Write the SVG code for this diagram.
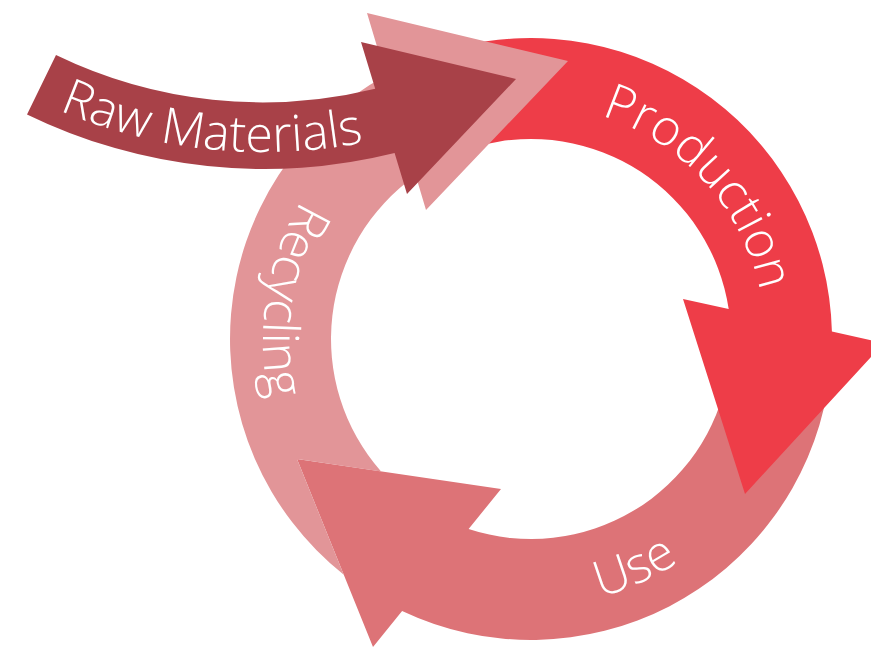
<svg xmlns="http://www.w3.org/2000/svg" width="871" height="648" viewBox="0 0 871 648">
  <style>
    .lbl { font-family: "Open Sans", "Liberation Sans", sans-serif; font-weight: 300; font-size: 50px; fill: #ffffff; }
  </style>
  <defs>
    <path id="tpRaw" d="M 62.6,111.8 A 524 524 0 0 0 360.2,143.1"/>
    <path id="tpProd" d="M 490.4,108.6 A 234 234 0 0 1 756.4,402.0"/>
    <path id="tpUse" d="M 458.4,596.0 A 268 268 0 0 0 772.3,455.4"/>
    <path id="tpRec" d="M 393.3,109.1 A 268 268 0 0 0 328.4,514.5"/>
  </defs>
  <rect width="871" height="648" fill="#ffffff"/>
  <g id="use">
    <path fill="#DD7377" d="M 827.4,391.3 A 301 301 0 0 1 402.1,611.0 L 373,647 L 297,459 L 501,489 L 468.6,529.0 A 200 200 0 0 0 728.0,373.7 Z"/>
    <text class="lbl"><textPath href="#tpUse" startOffset="50%" text-anchor="middle">Use</textPath></text>
  </g>
  <g id="production">
    <path fill="#EE3D48" d="M 453.1,48.3 A 301 301 0 0 1 831.9,331.6 L 884,343 L 745,494 L 683,299 L 728.7,309.0 A 200 200 0 0 0 479.2,145.8 Z"/>
    <text class="lbl"><textPath href="#tpProd" startOffset="50%" text-anchor="middle">Production</textPath></text>
  </g>
  <g id="recycling">
    <path fill="#E29598" d="M 343.8,574.7 A 301 301 0 0 1 385.7,75.4 L 367,13 L 568,61 L 426,210 L 415.7,175.6 A 200 200 0 0 0 381.1,471.4 L 297,459 Z"/>
    <text class="lbl"><textPath href="#tpRec" startOffset="50%" text-anchor="middle">Recycling</textPath></text>
  </g>
  <g id="raw-materials">
    <path fill="#A84148" d="M 56,55 A 474 474 0 0 0 375.2,88.8 L 361,42 L 516,79 L 407,194 L 394.6,153 A 541 541 0 0 1 27,114.4 Z"/>
    <text class="lbl"><textPath href="#tpRaw" startOffset="50%" text-anchor="middle">Raw Materials</textPath></text>
  </g>
  <g id="connectors"></g>
</svg>
